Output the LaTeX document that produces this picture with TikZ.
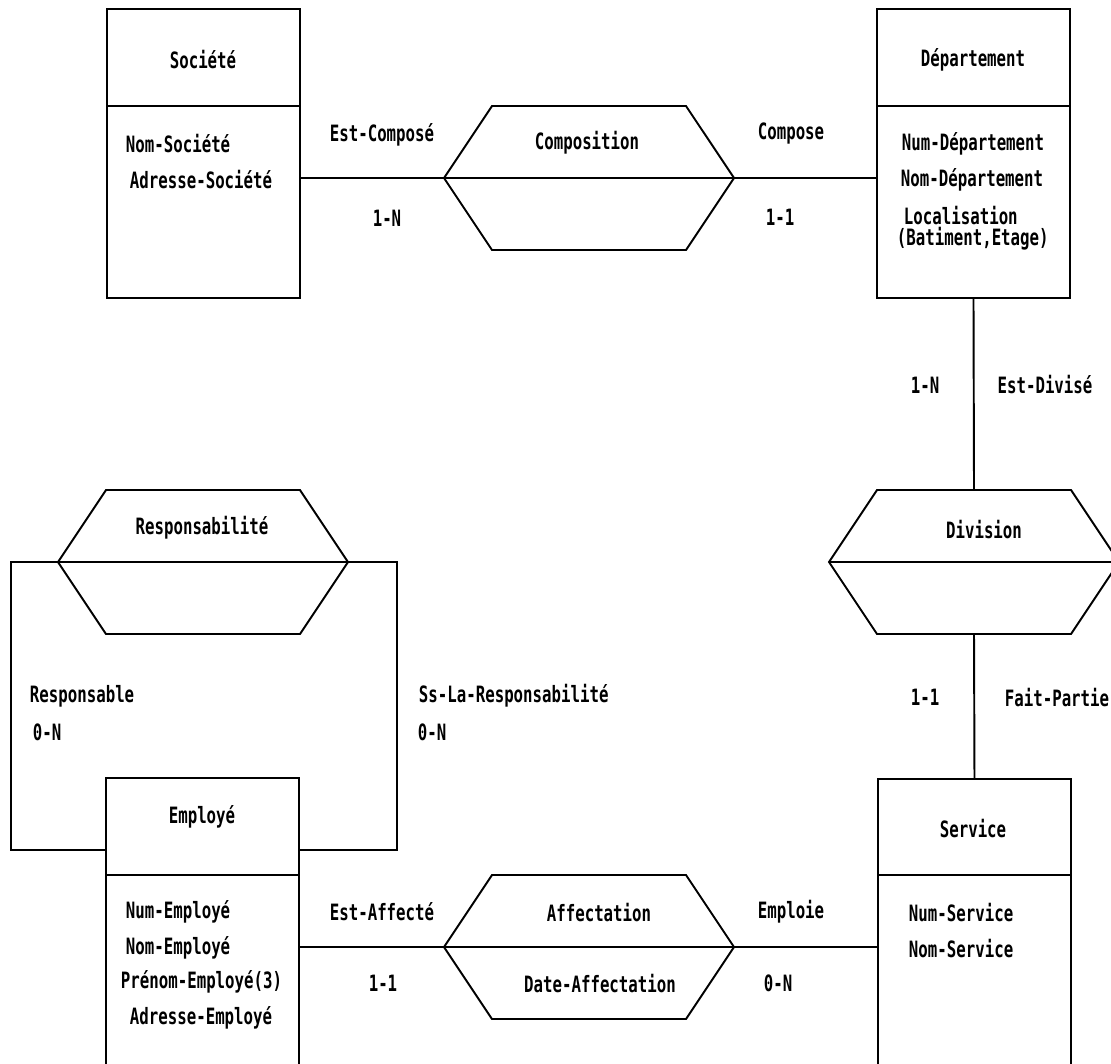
\documentclass[tikz,border=0pt]{standalone}
\usepackage{fontspec}
\newfontfamily\plotfont[FakeStretch=0.7,BoldFont={DejaVu Sans Mono Bold}]{DejaVu Sans Mono}

\tikzset{
    entite/.style={draw, rectangle, anchor=north west, inner sep=0pt, outer sep=0pt,
        minimum width=3.86cm, minimum height=5.78cm},
    texte/.style={font=\plotfont\bfseries\fontsize{12.8}{14}\selectfont, inner sep=0pt},
    attr/.style={texte, anchor=west}
}

% relation: name, centre x, centre y
\newcommand{\relation}[3]{%
    \coordinate (#1-w) at ({#2-145}, #3);
    \coordinate (#1-e) at ({#2+145}, #3);
    \coordinate (#1-n) at (#2, {#3-72});
    \coordinate (#1-s) at (#2, {#3+72});
    \draw (#1-w) -- ({#2-97}, {#3-72}) -- ({#2+97}, {#3-72}) -- (#1-e)
        -- ({#2+97}, {#3+72}) -- ({#2-97}, {#3+72}) -- cycle;
    \draw (#1-w) -- (#1-e);
}

\begin{document}
\begin{tikzpicture}[x=0.02cm, y=-0.02cm, line width=1.1pt]
    \useasboundingbox[fill=white] (0, 0) rectangle (1111, 1063);

    % entites
    \node[entite] (soc) at (107, 9) {};
    \node[entite] (dep) at (877, 9) {};
    \node[entite] (emp) at (106, 778) {};
    \node[entite] (serv) at (878, 779) {};
    \draw (soc.north west) ++(0, 97) -- ++(193, 0);
    \draw (dep.north west) ++(0, 97) -- ++(193, 0);
    \draw (emp.north west) ++(0, 97) -- ++(193, 0);
    \draw (serv.north west) ++(0, 96) -- ++(193, 0);

    % relations
    \relation{comp}{589}{178}
    \relation{div}{974}{562}
    \relation{aff}{589}{947}
    \relation{resp}{203}{562}

    % liens
    \draw (soc.east |- comp-w) -- (comp-w);
    \draw (comp-e) -- (dep.west |- comp-e);
    \draw (dep.south) -- (div-n);
    \draw (div-s) -- (serv.north);
    \draw (emp.east |- aff-w) -- (aff-w);
    \draw (aff-e) -- (serv.west |- aff-e);

    \coordinate (coinG) at (11, 562);
    \coordinate (basG) at (11, 850);
    \coordinate (coinD) at (397, 562);
    \coordinate (basD) at (397, 850);
    \draw (resp-w) -- (coinG) -- (basG) -- (basG -| emp.west);
    \draw (resp-e) -- (coinD) -- (basD) -- (basD -| emp.east);

    % textes
    \node[texte] (tsoc) at (203, 60) {Société};
    \node[attr] (nomsoc) at (125, 144) {Nom-Société};
    \node[attr] (adrsoc) at (129, 180) {Adresse-Société};

    \node[texte] (tdep) at (973, 60) {Département};
    \node[attr] (numdep) at (901, 144) {Num-Département};
    \node[attr] (nomdep) at (900, 180) {Nom-Département};
    \node[attr] (locdep) at (903, 216) {Localisation};
    \node[attr] (batdep) at (896, 239) {(Batiment,Etage)};

    \node[texte] (temp) at (202, 817) {Employé};
    \node[attr] (numemp) at (125, 912) {Num-Employé};
    \node[attr] (nomemp) at (125, 948) {Nom-Employé};
    \node[attr] (preemp) at (120, 982) {Prénom-Employé(3)};
    \node[attr] (adremp) at (129, 1018) {Adresse-Employé};

    \node[texte] (tserv) at (973, 828) {Service};
    \node[attr] (numserv) at (908, 912) {Num-Service};
    \node[attr] (nomserv) at (908, 948) {Nom-Service};

    \node[texte] (tcomp) at (587, 143) {Composition};
    \node[texte] (tdiv) at (984, 529) {Division};
    \node[texte] (taff) at (599, 912) {Affectation};
    \node[texte] (dateaff) at (600, 983) {Date-Affectation};
    \node[texte] (tresp) at (202, 528) {Responsabilité};

    \node[texte] (estcomp) at (382, 135) {Est-Composé};
    \node[texte] (cardsoc) at (387, 218) {1-N};
    \node[texte] (compose) at (791, 133) {Compose};
    \node[texte] (carddep) at (780, 217) {1-1};
    \node[texte] (carddiv) at (925, 385) {1-N};
    \node[texte] (estdiv) at (1045, 385) {Est-Divisé};
    \node[texte] (cardserv) at (925, 697) {1-1};
    \node[texte] (faitpartie) at (1057, 697) {Fait-Partie};
    \node[texte] (estaff) at (382, 912) {Est-Affecté};
    \node[texte] (cardemp) at (383, 983) {1-1};
    \node[texte] (emploie) at (791, 912) {Emploie};
    \node[texte] (cardemploie) at (778, 983) {0-N};
    \node[attr] (respable) at (29, 696) {Responsable};
    \node[attr] (cardrespable) at (32, 732) {0-N};
    \node[attr] (sslaresp) at (418, 696) {Ss-La-Responsabilité};
    \node[attr] (cardsslaresp) at (417, 732) {0-N};
\end{tikzpicture}
\end{document}
